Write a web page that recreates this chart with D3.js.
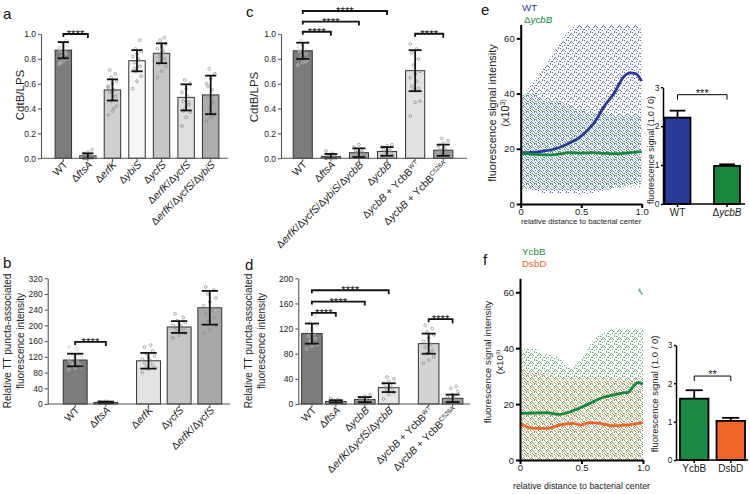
<!DOCTYPE html>
<html>
<head>
<meta charset="utf-8">
<script src="https://cdn.jsdelivr.net/npm/d3@7"></script>
<style>
  body { margin: 0; background: #fff; }
  svg { display: block; font-family: "Liberation Sans", Arial, sans-serif; }
</style>
</head>
<body>
<div id="wrapper"></div>
<script>
// ---- data ----
// *text* = italic, ^text = superscript

// a: CdtB/LPS
const aLabels = ["WT", "Δ*ftsA*", "Δ*erfK*", "Δ*ybiS*", "Δ*ycfS*", "Δ*erfK*/Δ*ycfS*", "Δ*erfK*/Δ*ycfS*/Δ*ybiS*"]
const aMeans = [0.87, 0.02, 0.55, 0.785, 0.845, 0.49, 0.51]
const aSD = [0.065, 0.02, 0.085, 0.085, 0.08, 0.105, 0.155]
const aFills = ["#7c7c7c", "#bdbdbd", "#cfcfcf", "#f6f6f6", "#c6c6c6", "#dfdfdf", "#acacac"]
const aPoints = [
  [0.76, 0.78, 0.8, 0.82, 0.84, 0.86, 0.87, 0.88, 0.9, 0.91, 0.93, 0.95, 0.77, 0.85, 0.89, 0.92],
  [0.0, 0.01, 0.01, 0.02, 0.02, 0.03, 0.03, 0.04, 0.05, 0.07, 0.0, 0.015],
  [0.35, 0.38, 0.42, 0.46, 0.5, 0.53, 0.55, 0.57, 0.6, 0.62, 0.65, 0.68, 0.71, 0.4, 0.58],
  [0.56, 0.62, 0.66, 0.7, 0.74, 0.77, 0.8, 0.82, 0.84, 0.86, 0.88, 0.95, 0.72, 0.79],
  [0.65, 0.7, 0.74, 0.78, 0.8, 0.82, 0.85, 0.88, 0.9, 0.92, 0.95, 0.97, 0.76, 0.87],
  [0.26, 0.33, 0.37, 0.4, 0.43, 0.46, 0.5, 0.53, 0.56, 0.6, 0.63, 0.45, 0.38],
  [0.3, 0.33, 0.36, 0.4, 0.45, 0.5, 0.55, 0.6, 0.64, 0.68, 0.72, 0.35, 0.58]
]
const aBrackets = [[0, 1, 1.0]]   // [from bar, to bar, height]
const aStars = ["****"]

// c: CdtB/LPS
const cLabels = ["WT", "Δ*ftsA*", "Δ*erfK*/Δ*ycfS*/Δ*ybiS*/Δ*ycbB*", "Δ*ycbB*", "Δ*ycbB* + YcbB^WT", "Δ*ycbB* + YcbB^C528A"]
const cMeans = [0.865, 0.015, 0.045, 0.055, 0.705, 0.065]
const cSD = [0.065, 0.02, 0.035, 0.035, 0.165, 0.045]
const cFills = ["#7c7c7c", "#b0b0b0", "#a9a9a9", "#d3d3d3", "#e2e2e2", "#a3a3a3"]
const cPoints = [
  [0.75, 0.77, 0.8, 0.82, 0.84, 0.86, 0.88, 0.9, 0.91, 0.93, 0.95, 0.78, 0.87],
  [0.0, 0.01, 0.01, 0.02, 0.02, 0.03, 0.04, 0.06],
  [0.01, 0.02, 0.03, 0.04, 0.05, 0.06, 0.07, 0.09, 0.11, 0.03, 0.05],
  [0.02, 0.03, 0.04, 0.05, 0.06, 0.07, 0.08, 0.09, 0.1, 0.11],
  [0.34, 0.45, 0.46, 0.55, 0.56, 0.58, 0.62, 0.65, 0.68, 0.7, 0.75, 0.8, 0.85, 0.88, 0.92],
  [0.02, 0.03, 0.04, 0.05, 0.06, 0.07, 0.08, 0.1, 0.12, 0.14, 0.16]
]
const cBrackets = [[0, 1, 1.018], [0, 2, 1.1], [0, 3, 1.185], [4, 5, 1.002]]
const cStars = ["****", "****", "****", "****"]

// b: relative TT puncta-associated fluorescence intensity
const bLabels = ["WT", "Δ*ftsA*", "Δ*erfK*", "Δ*ycfS*", "Δ*erfK*/Δ*ycfS*"]
const bGroups = [0, 0, 1, 1, 1]
const bMeans = [112, 4, 110, 196, 245]
const bSD = [16, 2, 20, 15, 43]
const bFills = ["#7c7c7c", "#bcbcbc", "#e3e3e3", "#c6c6c6", "#a9a9a9"]
const bPoints = [
  [88, 92, 95, 98, 100, 104, 108, 112, 115, 118, 122, 126, 130, 140, 145],
  [2, 3, 3, 4, 4, 5, 5, 6, 7],
  [80, 88, 92, 96, 100, 105, 110, 114, 118, 122, 128, 135, 145, 150],
  [168, 175, 180, 185, 190, 195, 198, 200, 203, 207, 212, 220, 230],
  [180, 190, 200, 210, 220, 230, 240, 250, 260, 270, 280, 290, 298]
]
const bBrackets = [[0, 1, 158]]
const bStars = ["****"]

// d: relative TT puncta-associated fluorescence intensity
const dLabels = ["WT", "Δ*ftsA*", "Δ*ycbB*", "Δ*erfK*/Δ*ycfS*/Δ*ycbB*", "Δ*ycbB* + YcbB^WT", "Δ*ycbB* + YcbB^C528A"]
const dGroups = [0, 0, 1, 1, 2, 2]
const dMeans = [112, 4, 7, 26, 96, 9]
const dSD = [16, 2, 4, 7, 16, 6]
const dFills = ["#7c7c7c", "#b5b5b5", "#9b9b9b", "#e5e5e5", "#d3d3d3", "#a0a0a0"]
const dPoints = [
  [88, 92, 95, 100, 104, 108, 112, 116, 120, 125, 130, 140],
  [2, 3, 4, 4, 5, 6, 7, 9],
  [2, 4, 5, 6, 7, 8, 9, 10, 12, 15],
  [8, 15, 18, 22, 25, 27, 30, 33, 36, 40, 43],
  [65, 70, 75, 80, 85, 90, 95, 100, 105, 110, 115, 120, 125],
  [1, 2, 3, 5, 6, 8, 10, 12, 15, 20, 25, 28]
]
const dBrackets = [[0, 1, 145], [0, 2, 163], [0, 3, 181], [4, 5, 135]]
const dStars = ["****", "****", "****", "****"]

const cdtTicks = [0, 0.2, 0.4, 0.6, 0.8, 1.0]
const bTicks = [0, 40, 80, 120, 160, 200, 240, 280, 320]
const dTicks = [0, 40, 80, 120, 160, 200]

// e / f: signal vs relative distance; clouds given as lower / upper envelopes
const cloudX = [0, 0.1, 0.2, 0.3, 0.4, 0.5, 0.6, 0.7, 0.8, 0.9, 1.0]
const eWTLow = [6, 5, 4, 4, 4, 3.5, 4, 5, 6, 7, 8]
const eWTHigh = [38, 44, 50, 57, 63, 65, 65, 65, 65, 65, 65]
const eYcbLow = [5, 5, 5, 5, 5, 5, 5, 5, 6, 6, 6]
const eYcbHigh = [40, 40, 38, 37, 36, 34, 33, 33, 32, 32, 32]
const eWTLineX = [0, 0.1, 0.2, 0.3, 0.4, 0.5, 0.6, 0.7, 0.77, 0.85, 0.9, 0.95, 1.0]
const eWTLineY = [18.6, 18.7, 19.2, 20.2, 22, 24.6, 29, 36, 40, 46, 47.5, 47.2, 44.5]
const eYcbLineX = [0, 0.1, 0.2, 0.3, 0.4, 0.5, 0.6, 0.7, 0.8, 0.9, 1.0]
const eYcbLineY = [18.3, 18, 17.8, 18, 18.6, 18.4, 18.6, 18.3, 18.2, 18.6, 19]
const eBarLabels = ["WT", "Δ*ycbB*"]
const eBarMeans = [2.22, 0.98]
const eBarSEM = [0.18, 0.04]
const eBarStars = "***"

const fYcbLow = [0, 0, 0, 0, 0, 0, 0, 0, 0, 0, 0]
const fYcbHigh = [40, 40, 38, 37, 33, 36, 43, 46, 47, 47, 47]
const fDsbLow = [0, 0, 0, 0, 0, 0, 0, 0, 0, 0, 0]
const fDsbHigh = [33, 32, 31, 30, 30, 30, 30, 30, 29, 29, 30]
const fOutlierX = [0.97, 0.98, 0.99, 0.975]
const fOutlierY = [61, 60, 59.5, 60.5]
const fYcbLineX = [0, 0.22, 0.32, 0.43, 0.57, 0.65, 0.76, 0.84, 0.88, 0.92, 0.96, 1.0]
const fYcbLineY = [16.7, 16.9, 16.3, 17.6, 20.3, 22, 23.3, 24, 24.2, 26.3, 27.7, 27.2]
const fDsbLineX = [0, 0.11, 0.22, 0.32, 0.43, 0.49, 0.57, 0.65, 0.76, 0.86, 1.0]
const fDsbLineY = [13.1, 11.3, 11.3, 12.5, 13.1, 12.5, 13.4, 13.1, 12.2, 12.5, 13.4]
const fBarLabels = ["YcbB", "DsbD"]
const fBarMeans = [1.6, 1.02]
const fBarSEM = [0.22, 0.08]
const fBarStars = "**"

const blue = "#2b3a97", green = "#17873f", orange = "#f0652a"

// ---- drawing ----
const svg = d3.select("#wrapper").append("svg").attr("width", 750).attr("height", 494)
svg.append("rect").attr("width", 750).attr("height", 494).attr("fill", "#fff")
const defs = svg.append("defs")

function richText(sel, str) {
    const parts = str.split(/(\*[^*]+\*|\^\S+)/).filter(s => s.length)
    parts.forEach(p => {
        if (p[0] == "*") sel.append("tspan").style("font-style", "italic").text(p.slice(1, -1))
        else if (p[0] == "^") sel.append("tspan").attr("dy", -3.5).style("font-size", "0.62em").text(p.slice(1))
        else sel.append("tspan").text(p)
    })
    return sel
}

function letter(t, x, y) {
    svg.append("text").attr("x", x).attr("y", y).attr("font-size", 15).attr("fill", "#111").text(t)
}

function yLabel(lines, xs, cy, size) {
    lines.forEach((l, i) => {
        svg.append("text")
            .attr("transform", `translate(${xs[i]},${cy}) rotate(-90)`)
            .attr("text-anchor", "middle").attr("font-size", size).attr("fill", "#222")
            .call(s => richText(s, l))
    })
}

function styleAxis(g, size, width, color) {
    g.selectAll("path, line").attr("stroke", color).attr("stroke-width", width)
    g.selectAll("text").attr("font-size", size).attr("fill", "#222")
        .attr("font-family", '"Liberation Sans", Arial, sans-serif')
}

function barPanel(o) {
    const g = svg.append("g")
    const x = d3.scaleBand().domain(o.labels).range(o.xRange).padding(o.pad)
    const bw = x.bandwidth()
    const cx = i => x(o.labels[i]) + (o.groups ? o.gaps[o.groups[i]] : 0) + bw / 2
    const y = d3.scaleLinear().domain(o.yDomain).range(o.yRange)

    g.selectAll(".bar").data(o.means).join("rect")
        .attr("x", (d, i) => cx(i) - bw / 2).attr("y", d => y(d))
        .attr("width", bw).attr("height", d => y(0) - y(d))
        .attr("fill", (d, i) => o.fills[i]).attr("stroke", "#333").attr("stroke-width", 1)

    // individual points
    o.points.forEach((arr, i) => {
        g.selectAll(null).data(arr).join("circle")
            .attr("cx", (d, j) => cx(i) + ((j * 3) % 7 - 3) * bw * 0.085)
            .attr("cy", d => y(d)).attr("r", 1.4)
            .attr("fill", "none").attr("stroke", i == 0 ? "#c8c8c8" : "#8a8a8a").attr("stroke-width", 0.7)
    })

    // error bars (mean +- SD)
    o.means.forEach((m, i) => {
        const c = cx(i), cap = bw * 0.34
        const lo = Math.max(0, m - o.sd[i]), hi = m + o.sd[i]
        g.append("line").attr("x1", c).attr("x2", c).attr("y1", y(lo)).attr("y2", y(hi))
            .attr("stroke", "#111").attr("stroke-width", 1.8)
        ;[lo, hi].forEach(v => g.append("line").attr("x1", c - cap).attr("x2", c + cap)
            .attr("y1", y(v)).attr("y2", y(v)).attr("stroke", "#111").attr("stroke-width", 1.8))
    })

    // significance brackets
    o.brackets.forEach((b, k) => {
        const x1 = cx(b[0]), x2 = cx(b[1]), yy = y(b[2])
        g.append("path").attr("d", `M${x1},${yy + 3}V${yy}H${x2}V${yy + 4}`)
            .attr("fill", "none").attr("stroke", "#111").attr("stroke-width", 1.8)
        g.append("text").attr("x", (x1 + x2) / 2).attr("y", yy + 4).attr("text-anchor", "middle")
            .attr("font-size", 11.5).attr("fill", "#111").text(o.stars[k])
    })

    // axes
    const ya = g.append("g").attr("transform", `translate(${o.axisX},0)`)
        .call(d3.axisLeft(y).tickValues(o.ticks).tickFormat(o.fmt).tickSize(3).tickSizeOuter(0).tickPadding(2))
    styleAxis(ya, 8.5, 1.1, "#555")
    g.append("line").attr("x1", o.axisX).attr("x2", o.xEnd).attr("y1", y(0)).attr("y2", y(0))
        .attr("stroke", "#555").attr("stroke-width", 1.1)
    o.labels.forEach((l, i) => {
        g.append("line").attr("x1", cx(i)).attr("x2", cx(i)).attr("y1", y(0)).attr("y2", y(0) + 3)
            .attr("stroke", "#555").attr("stroke-width", 1)
        g.append("text")
            .attr("transform", `translate(${cx(i) + 5},${y(0) + 7}) rotate(-45)`)
            .attr("text-anchor", "end").attr("font-size", 10.3).attr("fill", "#222")
            .call(s => richText(s, l))
    })
}

barPanel({ labels: aLabels, means: aMeans, sd: aSD, fills: aFills, points: aPoints,
    brackets: aBrackets, stars: aStars, xRange: [47, 227], pad: 0.33, axisX: 41, xEnd: 228,
    yDomain: [0, 1], yRange: [158.3, 34], ticks: cdtTicks, fmt: d3.format(".1f") })
barPanel({ labels: cLabels, means: cMeans, sd: cSD, fills: cFills, points: cPoints,
    brackets: cBrackets, stars: cStars, xRange: [284.2, 461.8], pad: 0.32, axisX: 281, xEnd: 467,
    yDomain: [0, 1], yRange: [158.3, 34], ticks: cdtTicks, fmt: d3.format(".1f") })
barPanel({ labels: bLabels, groups: bGroups, gaps: [0, 12], means: bMeans, sd: bSD, fills: bFills,
    points: bPoints, brackets: bBrackets, stars: bStars, xRange: [56.5, 216.5], pad: 0.22,
    axisX: 47.7, xEnd: 230, yDomain: [0, 320], yRange: [404, 278.3], ticks: bTicks, fmt: d3.format("d") })
barPanel({ labels: dLabels, groups: dGroups, gaps: [0, 5, 21], means: dMeans, sd: dSD, fills: dFills,
    points: dPoints, brackets: dBrackets, stars: dStars, xRange: [298.25, 445.25], pad: 0.14,
    axisX: 298.3, xEnd: 470, yDomain: [0, 200], yRange: [404, 278.3], ticks: dTicks, fmt: d3.format("d") })

yLabel(["CdtB/LPS"], [23.5], 95, 11.5)
yLabel(["CdtB/LPS"], [257.5], 97, 11.5)
yLabel(["Relative TT puncta-associated", "fluorescence intensity"], [10.5, 23.5], 341, 10)
yLabel(["Relative TT puncta-associated", "fluorescence intensity"], [252, 265], 341, 10)

// dotted cloud textures (irregular 8x8 tiles)
function dotPattern(id, color, dots, op) {
    const p = defs.append("pattern").attr("id", id).attr("patternUnits", "userSpaceOnUse")
        .attr("width", 8).attr("height", 8)
    dots.forEach(d => p.append("rect").attr("x", d[0]).attr("y", d[1]).attr("width", 1).attr("height", 1)
        .attr("fill", color).attr("opacity", op))
}
const tileA = [[0, 0], [3, 1], [6, 0], [1, 3], [5, 3], [7, 5], [2, 6], [4, 5], [6, 7], [0, 5], [4, 2], [2, 2]]
const tileB = [[1, 1], [4, 0], [7, 2], [2, 4], [6, 4], [0, 7], [3, 7], [5, 6], [7, 7], [3, 3]]
dotPattern("pBlue", "#4752ad", tileA, 0.85)
dotPattern("pGreenE", "#3ea25a", tileB, 0.85)
dotPattern("pGreenF", "#35994f", tileA, 0.8)
dotPattern("pOrange", "#f39154", tileB, 0.9)

function scatterPanel(o) {
    const g = svg.append("g")
    const x = d3.scaleLinear().domain([0, 1]).range(o.xRange)
    const y = d3.scaleLinear().domain([0, 65]).range(o.yRange)
    const clipId = o.id + "clip"
    defs.append("clipPath").attr("id", clipId).append("rect")
        .attr("x", o.xRange[0]).attr("y", o.yRange[1]).attr("width", o.xRange[1] - o.xRange[0])
        .attr("height", o.yRange[0] - o.yRange[1])
    const area = d3.area().x((d, i) => x(cloudX[i])).y0(d => y(d[0])).y1(d => y(d[1])).curve(d3.curveMonotoneX)
    const cg = g.append("g").attr("clip-path", `url(#${clipId})`)
    o.clouds.forEach(c => {
        cg.append("path").datum(c.low.map((v, i) => [v, c.high[i]])).attr("d", area).attr("fill", `url(#${c.pat})`)
    })
    if (o.outX) {
        o.outX.forEach((v, i) => g.append("circle").attr("cx", x(v)).attr("cy", y(o.outY[i])).attr("r", 1)
            .attr("fill", "#5fae72"))
    }
    const line = d3.line().x(d => x(d[0])).y(d => y(d[1])).curve(d3.curveMonotoneX)
    o.lines.forEach(l => {
        g.append("path").datum(l.x.map((v, i) => [v, l.y[i]])).attr("d", line)
            .attr("fill", "none").attr("stroke", l.color).attr("stroke-width", 2.8)
    })
    const ya = g.append("g").attr("transform", `translate(${o.xRange[0]},0)`)
        .call(d3.axisLeft(y).tickValues([0, 20, 40, 60]).tickSize(4).tickSizeOuter(0).tickPadding(2))
    styleAxis(ya, 9.5, 2, "#000")
    const xa = g.append("g").attr("transform", `translate(0,${o.yRange[0]})`)
        .call(d3.axisBottom(x).tickValues([0, 0.5, 1]).tickFormat(d => d == 0 ? "0" : d3.format(".1f")(d))
            .tickSize(4).tickSizeOuter(0).tickPadding(0))
    styleAxis(xa, 9.5, 2, "#000")
    g.append("text").attr("x", (o.xRange[0] + o.xRange[1]) / 2).attr("y", o.xlabY).attr("text-anchor", "middle")
        .attr("font-size", o.xlabSize).attr("fill", "#222").text("relative distance to bacterial center")
}

function smallBars(o) {
    const g = svg.append("g")
    const x = d3.scaleBand().domain(o.labels).range(o.xRange).paddingInner(o.pad).paddingOuter(0)
    const y = d3.scaleLinear().domain([0, 3]).range(o.yRange)
    g.selectAll(".sb").data(o.means).join("rect")
        .attr("x", (d, i) => x(o.labels[i])).attr("y", d => y(d))
        .attr("width", x.bandwidth()).attr("height", d => y(0) - y(d))
        .attr("fill", (d, i) => o.colors[i]).attr("stroke", "#000").attr("stroke-width", 1.8)
    o.means.forEach((m, i) => {
        const c = x(o.labels[i]) + x.bandwidth() / 2, cap = x.bandwidth() * 0.3
        g.append("line").attr("x1", c).attr("x2", c).attr("y1", y(m)).attr("y2", y(m + o.sem[i]))
            .attr("stroke", "#000").attr("stroke-width", 1.8)
        g.append("line").attr("x1", c - cap).attr("x2", c + cap).attr("y1", y(m + o.sem[i])).attr("y2", y(m + o.sem[i]))
            .attr("stroke", "#000").attr("stroke-width", 1.8)
        g.append("line").attr("x1", c).attr("x2", c).attr("y1", y(0)).attr("y2", y(0) + 3)
            .attr("stroke", "#000").attr("stroke-width", 1.5)
        g.append("text").attr("x", c).attr("y", y(0) + 12).attr("text-anchor", "middle")
            .attr("font-size", 10).attr("fill", "#222").call(s => richText(s, o.labels[i]))
    })
    const x1 = x(o.labels[0]) + x.bandwidth() / 2, x2 = x(o.labels[1]) + x.bandwidth() / 2
    const by = y(o.bracket)
    g.append("path").attr("d", `M${x1},${by + 5}V${by}H${x2}V${by + 5}`)
        .attr("fill", "none").attr("stroke", "#000").attr("stroke-width", 1)
    g.append("text").attr("x", (x1 + x2) / 2).attr("y", by + 2).attr("text-anchor", "middle")
        .attr("font-size", 11).attr("fill", "#111").text(o.stars)
    const ya = g.append("g").attr("transform", `translate(${o.axisX},0)`)
        .call(d3.axisLeft(y).tickValues([0, 1, 2, 3]).tickFormat(d3.format("d"))
            .tickSize(2).tickSizeOuter(0).tickPadding(1.5))
    styleAxis(ya, 8.5, 1.5, "#000")
    g.append("line").attr("x1", o.axisX).attr("x2", o.xEnd).attr("y1", y(0)).attr("y2", y(0))
        .attr("stroke", "#000").attr("stroke-width", 1.5)
}

scatterPanel({ id: "e", xRange: [520.7, 641.7], yRange: [204, 24.5],
    clouds: [{ low: eWTLow, high: eWTHigh, pat: "pBlue" }, { low: eYcbLow, high: eYcbHigh, pat: "pGreenE" }],
    lines: [{ x: eWTLineX, y: eWTLineY, color: blue }, { x: eYcbLineX, y: eYcbLineY, color: green }],
    xlabY: 224, xlabSize: 7.8 })
smallBars({ labels: eBarLabels, means: eBarMeans, sem: eBarSEM, colors: [blue, green],
    xRange: [664.5, 740], pad: 0.475, yRange: [204, 87.3], axisX: 663, xEnd: 745,
    bracket: 2.81, stars: eBarStars })

scatterPanel({ id: "f", xRange: [520, 643], yRange: [460, 278.3],
    clouds: [{ low: fYcbLow, high: fYcbHigh, pat: "pGreenF" }, { low: fDsbLow, high: fDsbHigh, pat: "pOrange" }],
    outX: fOutlierX, outY: fOutlierY,
    lines: [{ x: fYcbLineX, y: fYcbLineY, color: green }, { x: fDsbLineX, y: fDsbLineY, color: orange }],
    xlabY: 488.5, xlabSize: 8.9 })
smallBars({ labels: fBarLabels, means: fBarMeans, sem: fBarSEM, colors: ["#1b8a45", orange],
    xRange: [680, 745], pad: 0.22, yRange: [460, 345], axisX: 676, xEnd: 748,
    bracket: 2.19, stars: fBarStars })

yLabel(["fluorescence signal intensity", "(x10^3)"], [496, 508.5], 113, 11)
yLabel(["fluorescence signal intensity", "(x10^3)"], [491, 503], 362, 9.8)
yLabel(["fluorescence signal (1.0 / 0)"], [654], 150, 8.8)
yLabel(["fluorescence signal (1.0 / 0)"], [658], 394, 9.5)

// legends
svg.append("text").attr("x", 522).attr("y", 11).attr("font-size", 9.8).attr("fill", blue).text("WT")
svg.append("text").attr("x", 524).attr("y", 22.5).attr("font-size", 9.8).attr("fill", green).call(s => richText(s, "Δ*ycbB*"))
svg.append("text").attr("x", 522).attr("y", 255).attr("font-size", 9.8).attr("fill", green).text("YcbB")
svg.append("text").attr("x", 522).attr("y", 266.5).attr("font-size", 9.8).attr("fill", orange).text("DsbD")

letter("a", 3, 19)
letter("c", 246, 17)
letter("e", 481, 15)
letter("b", 3, 268)
letter("d", 245, 270)
letter("f", 483, 265)
</script>
</body>
</html>
